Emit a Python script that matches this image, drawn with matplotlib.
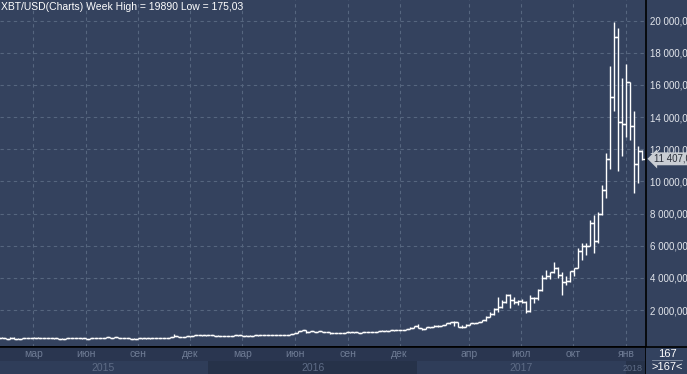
import datetime as dt
import matplotlib
matplotlib.use('Agg')
import matplotlib.pyplot as plt
from matplotlib.lines import Line2D
from matplotlib.patches import Rectangle

# weekly OHLC, weeks starting 2014-12-29
opens = [317, 264, 270, 209, 253, 226, 223, 234, 235, 260, 275, 285, 268,
         242, 255, 236, 223, 219, 241, 240, 236, 240, 230, 225, 233, 244,
         260, 270, 310, 275, 293, 281, 265, 257, 228, 229, 240, 230, 231,
         232, 239, 247, 270, 285, 325, 373, 320, 323, 360, 396, 434, 442,
         423, 431, 448, 386, 402, 377, 376, 405, 437, 433, 403, 413, 410,
         417, 419, 420, 430, 460, 446, 460, 455, 444, 528, 584, 685, 763,
         661, 703, 650, 666, 655, 624, 592, 570, 581, 573, 608, 608, 609,
         602, 610, 617, 641, 657, 700, 711, 703, 731, 733, 765, 778, 790,
         892, 998, 904, 823, 922, 918, 1024, 1000, 1058, 1190, 1272, 1231, 970,
         970, 1100, 1210, 1180, 1250, 1350, 1550, 1750, 2050, 2200, 2500, 2950, 2600,
         2500, 2550, 2500, 1930, 2750, 2750, 3250, 4000, 4100, 4350, 4600, 4200, 3760,
         3800, 4400, 4600, 5700, 6000, 6000, 7400, 6300, 8000, 9450, 11380, 15230, 19000,
         13700, 13570, 16200, 13450, 11080, 11900]
highs = [320, 300, 275, 310, 315, 245, 240, 250, 260, 300, 296, 290, 276,
         260, 260, 237, 238, 245, 246, 245, 241, 241, 231, 236, 257, 262,
         275, 310, 317, 295, 297, 286, 273, 262, 235, 240, 245, 235, 235,
         240, 248, 272, 290, 330, 495, 390, 340, 365, 400, 465, 465, 460,
         440, 460, 450, 420, 410, 392, 405, 440, 440, 440, 420, 420, 425,
         422, 425, 432, 462, 470, 465, 462, 460, 535, 590, 690, 780, 765,
         705, 705, 680, 680, 660, 625, 600, 590, 585, 615, 630, 612, 612,
         615, 620, 642, 660, 720, 740, 740, 750, 740, 770, 785, 795, 935,
         1000, 1150, 910, 930, 930, 1040, 1070, 1060, 1200, 1280, 1330, 1245, 1060,
         1120, 1210, 1220, 1260, 1350, 1620, 1850, 2100, 2790, 2600, 2980, 2980, 2800,
         2620, 2700, 2550, 2920, 2800, 3300, 4200, 4480, 4370, 4980, 4700, 4380, 4100,
         4400, 4600, 5860, 6200, 6150, 7600, 7900, 8100, 9750, 11780, 17150, 19890, 19520,
         16460, 17300, 16200, 14380, 12220, 11950]
lows = [262, 260, 175, 200, 210, 212, 216, 230, 232, 255, 270, 255, 235,
        236, 222, 216, 218, 217, 230, 233, 232, 222, 218, 224, 230, 240,
        254, 265, 270, 272, 278, 258, 255, 198, 199, 225, 225, 224, 225,
        230, 235, 246, 265, 280, 310, 300, 310, 315, 350, 390, 425, 405,
        415, 420, 360, 370, 360, 365, 372, 400, 410, 365, 400, 405, 405,
        410, 417, 418, 428, 440, 440, 450, 435, 440, 515, 575, 680, 560,
        620, 630, 645, 650, 620, 480, 570, 565, 565, 570, 600, 600, 590,
        600, 605, 612, 630, 655, 685, 695, 700, 725, 730, 755, 770, 790,
        890, 880, 750, 820, 885, 915, 950, 990, 1050, 1150, 1000, 940, 890,
        930, 1090, 1160, 1170, 1250, 1330, 1550, 1700, 1850, 2100, 2450, 2100, 2400,
        2300, 2450, 1830, 1900, 2450, 2650, 3200, 3950, 3900, 4300, 4000, 2940, 3550,
        3750, 4100, 4600, 5100, 5400, 6000, 5550, 6200, 7900, 9000, 10800, 14400, 10670,
        11600, 12740, 12580, 9280, 9880, 11340]
closes = [264, 270, 209, 253, 226, 223, 234, 235, 260, 275, 285, 268, 242,
          255, 236, 223, 219, 241, 240, 236, 240, 230, 225, 233, 244, 260,
          270, 310, 275, 293, 281, 265, 257, 228, 229, 240, 230, 231, 232,
          239, 247, 270, 285, 325, 373, 320, 323, 360, 396, 434, 442, 423,
          431, 448, 386, 402, 377, 376, 405, 437, 433, 403, 413, 410, 417,
          419, 420, 430, 460, 446, 460, 455, 444, 528, 584, 685, 763, 661,
          703, 650, 666, 655, 624, 592, 570, 581, 573, 608, 608, 609, 602,
          610, 617, 641, 657, 700, 711, 703, 731, 733, 765, 778, 790, 892,
          998, 904, 823, 922, 918, 1024, 1000, 1058, 1190, 1272, 1231, 970, 970,
          1100, 1210, 1180, 1250, 1350, 1550, 1750, 2050, 2200, 2500, 2950, 2600, 2500,
          2550, 2500, 1930, 2750, 2750, 3250, 4000, 4100, 4350, 4600, 4200, 3760, 3800,
          4400, 4600, 5700, 6000, 6000, 7400, 6300, 8000, 9450, 11380, 15230, 19000, 13700,
          13570, 16200, 13450, 11080, 11900, 11407]

first_week = dt.date(2014, 12, 29)
weeks = [first_week + dt.timedelta(weeks=i) for i in range(len(opens))]

month_dates = ['2015-03-01', '2015-06-01', '2015-09-01', '2015-12-01',
               '2016-03-01', '2016-06-01', '2016-09-01', '2016-12-01',
               '2017-04-01', '2017-07-01', '2017-10-01', '2018-01-01']
month_labels = ['мар', 'июн', 'сен', 'дек', 'мар', 'июн', 'сен', 'дек',
                'апр', 'июл', 'окт', 'янв']
years = [2015, 2016, 2017, 2018]
price_ticks = [2000, 4000, 6000, 8000, 10000, 12000, 14000, 16000, 18000, 20000]

title = 'XBT/USD(Charts) Week High = 19890 Low = 175,03'

bg = '#34425e'
strip = '#2a3650'
grid_c = '#56667f'
regular = ['Liberation Sans', 'DejaVu Sans']
plt.rcParams['font.family'] = regular


def fmt(v):
    return f'{v:,.3f}'.replace(',', ' ').replace('.', ',')


W, H = 687, 374
fig = plt.figure(figsize=(W / 100, H / 100), dpi=100, facecolor=bg)
ax = fig.add_axes([0, 27 / H, 646 / W, 347 / H], facecolor=bg)
axb = fig.add_axes([0, 0, 646 / W, 27 / H], facecolor=strip, sharex=ax)

# OHLC bars
ax.vlines(weeks, lows, highs, color='white', lw=1.0)
ax.plot(weeks, opens, ls='', marker=0, ms=2.4, mew=1.0, color='white')
ax.plot(weeks, closes, ls='', marker=1, ms=2.4, mew=1.0, color='white')

ax.set_xlim(dt.date(2015, 1, 2), dt.date(2018, 2, 5))
ax.set_ylim(-299, 21285)

mdts = [dt.date.fromisoformat(d) for d in month_dates]
ax.set_xticks(mdts)
ax.set_yticks(price_ticks)
ax.grid(True, color=grid_c, lw=0.8, ls=(0, (3, 3)))
ax.yaxis.tick_right()
ax.set_yticklabels([fmt(v) for v in price_ticks])
ax.tick_params(axis='y', length=0, pad=3, labelsize=7, labelcolor='#e3e6ec')
ax.tick_params(axis='x', length=0, labelbottom=False)
for s in ['top', 'left']:
    ax.spines[s].set_visible(False)
for s in ['right', 'bottom']:
    ax.spines[s].set_color('black')
    ax.spines[s].set_linewidth(1.2)

# bottom strip: months + year bands
axb.set_ylim(0, 1)
axb.set_yticks([])
axb.tick_params(axis='x', length=0, labelbottom=False)
for s in ['top', 'left', 'bottom']:
    axb.spines[s].set_visible(False)
axb.spines['right'].set_color('black')
axb.spines['right'].set_linewidth(1.2)
band_cols = ['#2f3d59', '#263249']
for i, y in enumerate(years):
    x0 = dt.date(y, 1, 1)
    x1 = dt.date(y + 1, 1, 1)
    axb.axvspan(x0, x1, ymin=0, ymax=0.48, color=band_cols[i % 2], lw=0)
    if y < years[-1]:
        axb.text(x0 + (x1 - x0) / 2, 0.22, str(y), ha='center', va='center',
                 fontsize=7.5, color='#5e6c86')
for d, lab in zip(mdts, month_labels):
    axb.text(d, 0.73, lab, ha='center', va='center', fontsize=7.5, color='#6f7c95')
# last (partial) year label sits against the right edge
axb.text(0.995, 0.22, str(years[-1]), transform=axb.transAxes, ha='right',
         va='center', fontsize=6.5, color='#5e6c86')

fig.text(1 / W, 1 - 7 / H, title, ha='left', va='center', fontsize=7.5, color='white')

# last price tag
ax.annotate(fmt(closes[-1]), xy=(1.0, closes[-1]), xycoords=('axes fraction', 'data'),
            xytext=(6, 0), textcoords='offset points', ha='left', va='center',
            fontsize=7, color='#2a2f3a', annotation_clip=False,
            bbox=dict(boxstyle='larrow,pad=0.15', fc='#c9cdd3', ec='none'))

# right-bottom box
fig.add_artist(Rectangle((646 / W, 0), 41 / W, 27 / H, transform=fig.transFigure,
                         fc='#33425f', ec='none'))
fig.add_artist(Line2D([0, 1], [27 / H, 27 / H], color='black', lw=1.2))
fig.add_artist(Line2D([652 / W, 682 / W], [14 / H, 14 / H], color='#8a96aa', lw=0.6))
fig.text(667 / W, 20 / H, '167', ha='center', va='center', fontsize=8, color='white')
fig.text(667 / W, 7 / H, '>167<', ha='center', va='center', fontsize=8, color='white')

fig.savefig('out.png', dpi=100, facecolor=bg)
